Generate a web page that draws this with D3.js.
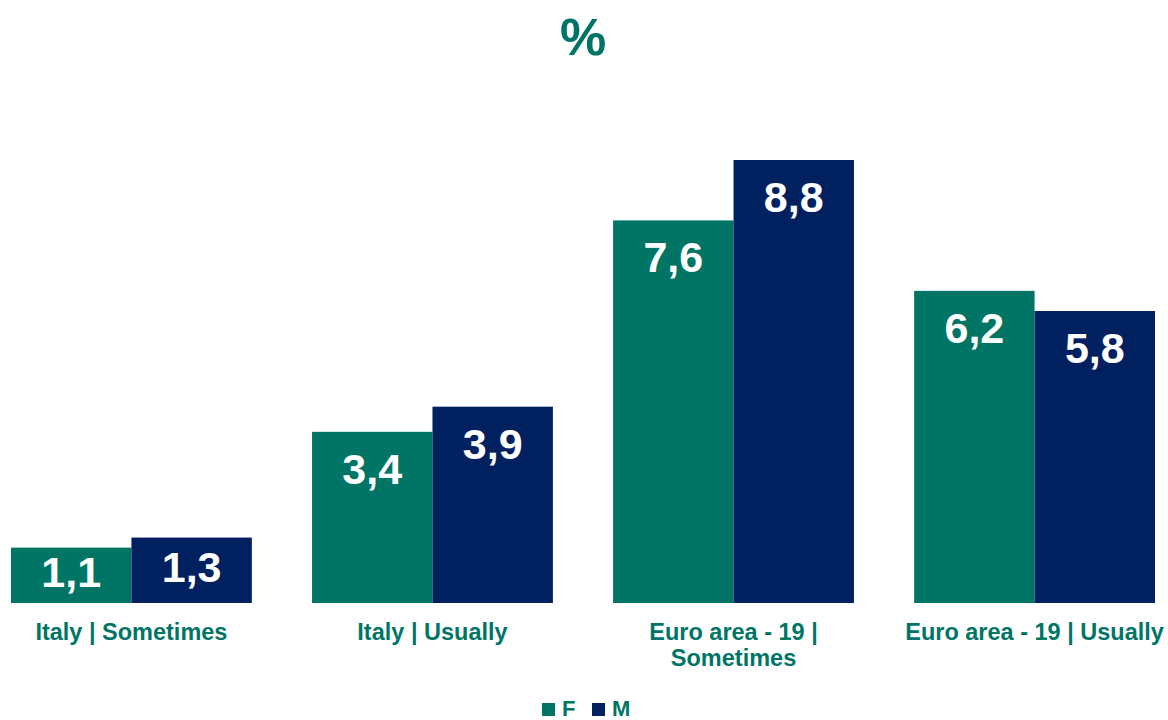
<!DOCTYPE html>
<html>
<head>
<meta charset="utf-8">
<script src="https://cdn.jsdelivr.net/npm/d3@7"></script>
<style>
  html, body { margin: 0; padding: 0; background: #ffffff; }
  svg { display: block; font-family: "Liberation Sans", Arial, sans-serif; }
</style>
</head>
<body>
<svg id="chart" width="1168" height="720"></svg>
<script>
// Share of employed people working from home, by sex (%)
const categories = ["Italy | Sometimes", "Italy | Usually", "Euro area - 19 | Sometimes", "Euro area - 19 | Usually"];
const seriesNames = ["F", "M"];
const valuesF = [1.1, 3.4, 7.6, 6.2];
const valuesM = [1.3, 3.9, 8.8, 5.8];
const title = "%";

const colors = { F: "#007566", M: "#002060" };
const textColor = "#007566";

const svg = d3.select("#chart");
const baseY = 603, topY = 160;

const rows = categories.map((c, i) => ({ category: c, F: valuesF[i], M: valuesM[i] }));

const x0 = d3.scaleBand().domain(categories).range([11, 1155]).paddingInner(0.2).paddingOuter(0);
const x1 = d3.scaleBand().domain(seriesNames).range([0, x0.bandwidth()]).padding(0);
const y = d3.scaleLinear().domain([0, d3.max([...valuesF, ...valuesM])]).range([baseY, topY]);

const fmt = v => d3.format(".1f")(v).replace(".", ",");

// Title
svg.append("text")
  .attr("x", 583).attr("y", 55)
  .attr("text-anchor", "middle")
  .attr("font-size", 52).attr("font-weight", "bold")
  .attr("fill", textColor)
  .text(title);

// Bars
const groups = svg.append("g").selectAll("g")
  .data(rows).join("g")
  .attr("transform", d => `translate(${x0(d.category)},0)`);

const cells = groups.selectAll("g.cell")
  .data(d => seriesNames.map(k => ({ key: k, value: d[k] })))
  .join("g").attr("class", "cell");

cells.append("rect")
  .attr("x", d => x1(d.key))
  .attr("y", d => y(d.value))
  .attr("width", x1.bandwidth())
  .attr("height", d => baseY - y(d.value))
  .attr("fill", d => colors[d.key]);

// Value labels inside the bars
cells.append("text")
  .attr("x", d => x1(d.key) + x1.bandwidth() / 2)
  .attr("y", d => {
    const top = y(d.value);
    const center = Math.min(top + 37, (top + baseY) / 2 - 3);
    return center + 15;
  })
  .attr("text-anchor", "middle")
  .attr("font-size", 43).attr("font-weight", "bold")
  .attr("fill", "#ffffff")
  .text(d => fmt(d.value));

// Category axis labels, wrapped to fit
const axisG = svg.append("g");
const labels = axisG.selectAll("text")
  .data(categories).join("text")
  .attr("x", d => x0(d) + x0.bandwidth() / 2)
  .attr("y", 640)
  .attr("text-anchor", "middle")
  .attr("font-size", 23.5).attr("font-weight", "bold")
  .attr("fill", textColor);

function wrap(sel, maxWidth, lineHeight) {
  sel.each(function (d) {
    const t = d3.select(this);
    const words = d.split(/\s+/);
    const cx = t.attr("x");
    t.text(null);
    let line = [];
    let tspan = t.append("tspan").attr("x", cx).attr("dy", 0);
    for (const w of words) {
      line.push(w);
      tspan.text(line.join(" "));
      if (tspan.node().getComputedTextLength() > maxWidth && line.length > 1) {
        line.pop();
        tspan.text(line.join(" "));
        line = [w];
        tspan = t.append("tspan").attr("x", cx).attr("dy", lineHeight).text(w);
      }
    }
  });
}
labels.call(wrap, 275, 26);

// Legend
const legend = svg.append("g").attr("transform", "translate(542,703)");
const legendItems = legend.selectAll("g")
  .data(seriesNames).join("g")
  .attr("transform", (d, i) => `translate(${i * 50},0)`);
legendItems.append("rect")
  .attr("width", 13).attr("height", 13)
  .attr("fill", d => colors[d]);
legendItems.append("text")
  .attr("x", 20).attr("y", 13)
  .attr("font-size", 22).attr("font-weight", "bold")
  .attr("fill", textColor)
  .text(d => d);
</script>
</body>
</html>
